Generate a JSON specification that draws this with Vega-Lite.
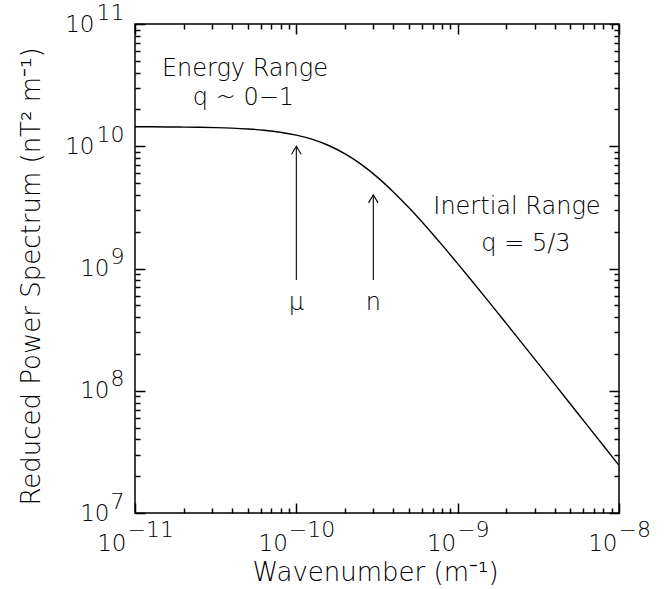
{
  "$schema": "https://vega.github.io/schema/vega-lite/v6.json",
  "autosize": {"type": "none"},
  "width": 484,
  "height": 489,
  "padding": {"left": 135, "top": 24, "right": 47, "bottom": 76},
  "background": "white",
  "config": {
    "view": {"stroke": "black", "strokeWidth": 1.5},
    "font": "DejaVu Sans",
    "axis": {"grid": false, "domain": false, "labelFont": "DejaVu Sans", "titleFont": "DejaVu Sans", "labelColor": "black", "titleColor": "black", "titleFontWeight": 200, "labelFontWeight": 200, "labelFlush": false, "labelOverlap": false, "labelBound": false}
  },
  "resolve": {"axis": {"x": "independent", "y": "independent"}},
  "datasets": {
    "curve": [
      {"k": 1e-11, "p": 1.443e10},
      {"k": 1.259e-11, "p": 1.442e10},
      {"k": 1.585e-11, "p": 1.439e10},
      {"k": 1.995e-11, "p": 1.435e10},
      {"k": 2.512e-11, "p": 1.429e10},
      {"k": 3.162e-11, "p": 1.420e10},
      {"k": 3.981e-11, "p": 1.406e10},
      {"k": 5.012e-11, "p": 1.384e10},
      {"k": 6.310e-11, "p": 1.351e10},
      {"k": 7.943e-11, "p": 1.302e10},
      {"k": 1e-10, "p": 1.232e10},
      {"k": 1.259e-10, "p": 1.137e10},
      {"k": 1.585e-10, "p": 1.014e10},
      {"k": 1.995e-10, "p": 8.70e9},
      {"k": 2.512e-10, "p": 7.14e9},
      {"k": 3.162e-10, "p": 5.62e9},
      {"k": 3.981e-10, "p": 4.25e9},
      {"k": 5.012e-10, "p": 3.12e9},
      {"k": 6.310e-10, "p": 2.235e9},
      {"k": 7.943e-10, "p": 1.574e9},
      {"k": 1e-9, "p": 1.096e9},
      {"k": 1.259e-9, "p": 7.57e8},
      {"k": 1.585e-9, "p": 5.21e8},
      {"k": 1.995e-9, "p": 3.57e8},
      {"k": 2.512e-9, "p": 2.44e8},
      {"k": 3.162e-9, "p": 1.666e8},
      {"k": 3.981e-9, "p": 1.137e8},
      {"k": 5.012e-9, "p": 7.75e7},
      {"k": 6.310e-9, "p": 5.28e7},
      {"k": 7.943e-9, "p": 3.60e7},
      {"k": 1e-8, "p": 2.45e7}
    ],
    "arrows": [
      {"k": 1e-10, "lo": 8.05e8, "hi": 1e10},
      {"k": 3e-10, "lo": 8.05e8, "hi": 4e9}
    ],
    "notes": [
      {"text": "Energy Range", "k": 4.8e-11, "p": 3.75e10},
      {"text": "q ~ 0−1", "k": 4.7e-11, "p": 2.17e10},
      {"text": "Inertial Range", "k": 2.33e-9, "p": 2.80e9},
      {"text": "q = 5/3", "k": 2.65e-9, "p": 1.40e9},
      {"text": "μ", "k": 1e-10, "p": 4.61e8},
      {"text": "n", "k": 3e-10, "p": 4.61e8}
    ]
  },
  "layer": [
    {
      "data": {"name": "curve"},
      "mark": {"type": "line", "color": "black", "strokeWidth": 1.4, "interpolate": "monotone"},
      "encoding": {
        "x": {"field": "k", "type": "quantitative", "scale": {"type": "log", "domain": [1e-11, 1e-8]},
          "axis": {"orient": "bottom", "values": [1e-11, 1e-10, 1e-9, 1e-8], "ticks": false, "labelExpr": "'10'", "labelAlign": "right", "labelBaseline": "top", "labelPadding": 19, "labelFontSize": 23,
            "labelOffset": {"condition": {"test": "datum.value < 5e-10", "value": -9}, "value": -2},
            "title": "Wavenumber (m⁻¹)", "titleFontSize": 26, "titleX": 240, "titleY": 67, "titleBaseline": "alphabetic", "titleAlign": "center"}},
        "y": {"field": "p", "type": "quantitative", "scale": {"type": "log", "domain": [1e7, 1e11]},
          "axis": {"orient": "left", "values": [1e7, 1e8, 1e9, 1e10, 1e11], "ticks": false, "labelExpr": "'10'", "labelAlign": "right", "labelBaseline": "middle", "labelFontSize": 23,
            "labelPadding": {"condition": {"test": "datum.value >= 1e10", "value": 41}, "value": 26},
            "title": "Reduced Power Spectrum (nT² m⁻¹)", "titleFontSize": 26, "titleX": -96, "titleY": 252, "titleAngle": -90, "titleBaseline": "alphabetic", "titleAlign": "center"}}
      }
    },
    {
      "data": {"name": "curve"},
      "mark": {"type": "line", "opacity": 0},
      "encoding": {
        "x": {"field": "k", "type": "quantitative", "scale": {"type": "log", "domain": [1e-11, 1e-8]},
          "axis": {"orient": "bottom", "values": [1e-11, 1e-10, 1e-9, 1e-8], "ticks": false, "labelExpr": "format(round(log(datum.value)/LN10), 'd')", "labelAlign": "left", "labelBaseline": "top", "labelPadding": 6, "labelFontSize": 22,
            "labelOffset": {"condition": {"test": "datum.value < 5e-10", "value": -8}, "value": -1},
            "title": null}},
        "y": {"field": "p", "type": "quantitative", "scale": {"type": "log", "domain": [1e7, 1e11]},
          "axis": {"orient": "left", "values": [1e7, 1e8, 1e9, 1e10, 1e11], "ticks": false, "labelExpr": "format(round(log(datum.value)/LN10), 'd')", "labelAlign": "right", "labelBaseline": "middle", "labelFontSize": 22, "labelPadding": 11, "labelOffset": -12, "title": null}}
      }
    },
    {
      "data": {"name": "curve"},
      "mark": {"type": "line", "opacity": 0},
      "encoding": {
        "x": {"field": "k", "type": "quantitative", "scale": {"type": "log", "domain": [1e-11, 1e-8]},
          "axis": {"orient": "bottom", "values": [1e-11, 1e-10, 1e-9, 1e-8], "labels": false, "ticks": true, "tickSize": -10, "tickWidth": 1.5, "tickColor": "black", "title": null}},
        "y": {"field": "p", "type": "quantitative", "scale": {"type": "log", "domain": [1e7, 1e11]},
          "axis": {"orient": "left", "values": [1e7, 1e8, 1e9, 1e10, 1e11], "labels": false, "ticks": true, "tickSize": -10, "tickWidth": 1.5, "tickColor": "black", "title": null}}
      }
    },
    {
      "data": {"name": "curve"},
      "mark": {"type": "line", "opacity": 0},
      "encoding": {
        "x": {"field": "k", "type": "quantitative", "scale": {"type": "log", "domain": [1e-11, 1e-8]},
          "axis": {"orient": "bottom", "values": [2e-11, 3e-11, 4e-11, 5e-11, 6e-11, 7e-11, 8e-11, 9e-11, 2e-10, 3e-10, 4e-10, 5e-10, 6e-10, 7e-10, 8e-10, 9e-10, 2e-9, 3e-9, 4e-9, 5e-9, 6e-9, 7e-9, 8e-9, 9e-9], "labels": false, "ticks": true, "tickSize": -5, "tickWidth": 1.5, "tickColor": "black", "title": null}},
        "y": {"field": "p", "type": "quantitative", "scale": {"type": "log", "domain": [1e7, 1e11]},
          "axis": {"orient": "left", "values": [2e7, 3e7, 4e7, 5e7, 6e7, 7e7, 8e7, 9e7, 2e8, 3e8, 4e8, 5e8, 6e8, 7e8, 8e8, 9e8, 2e9, 3e9, 4e9, 5e9, 6e9, 7e9, 8e9, 9e9, 2e10, 3e10, 4e10, 5e10, 6e10, 7e10, 8e10, 9e10], "labels": false, "ticks": true, "tickSize": -5, "tickWidth": 1.5, "tickColor": "black", "title": null}}
      }
    },
    {
      "data": {"name": "curve"},
      "mark": {"type": "line", "opacity": 0},
      "encoding": {
        "x": {"field": "k", "type": "quantitative", "scale": {"type": "log", "domain": [1e-11, 1e-8]},
          "axis": {"orient": "top", "values": [1e-11, 1e-10, 1e-9, 1e-8], "labels": false, "ticks": true, "tickSize": -10, "tickWidth": 1.5, "tickColor": "black", "title": null}},
        "y": {"field": "p", "type": "quantitative", "scale": {"type": "log", "domain": [1e7, 1e11]},
          "axis": {"orient": "right", "values": [1e7, 1e8, 1e9, 1e10, 1e11], "labels": false, "ticks": true, "tickSize": -10, "tickWidth": 1.5, "tickColor": "black", "title": null}}
      }
    },
    {
      "data": {"name": "curve"},
      "mark": {"type": "line", "opacity": 0},
      "encoding": {
        "x": {"field": "k", "type": "quantitative", "scale": {"type": "log", "domain": [1e-11, 1e-8]},
          "axis": {"orient": "top", "values": [2e-11, 3e-11, 4e-11, 5e-11, 6e-11, 7e-11, 8e-11, 9e-11, 2e-10, 3e-10, 4e-10, 5e-10, 6e-10, 7e-10, 8e-10, 9e-10, 2e-9, 3e-9, 4e-9, 5e-9, 6e-9, 7e-9, 8e-9, 9e-9], "labels": false, "ticks": true, "tickSize": -5, "tickWidth": 1.5, "tickColor": "black", "title": null}},
        "y": {"field": "p", "type": "quantitative", "scale": {"type": "log", "domain": [1e7, 1e11]},
          "axis": {"orient": "right", "values": [2e7, 3e7, 4e7, 5e7, 6e7, 7e7, 8e7, 9e7, 2e8, 3e8, 4e8, 5e8, 6e8, 7e8, 8e8, 9e8, 2e9, 3e9, 4e9, 5e9, 6e9, 7e9, 8e9, 9e9, 2e10, 3e10, 4e10, 5e10, 6e10, 7e10, 8e10, 9e10], "labels": false, "ticks": true, "tickSize": -5, "tickWidth": 1.5, "tickColor": "black", "title": null}}
      }
    },
    {
      "data": {"name": "arrows"},
      "mark": {"type": "rule", "color": "black", "strokeWidth": 1.1},
      "encoding": {
        "x": {"field": "k", "type": "quantitative", "scale": {"type": "log", "domain": [1e-11, 1e-8]}, "axis": null},
        "y": {"field": "lo", "type": "quantitative", "scale": {"type": "log", "domain": [1e7, 1e11]}, "axis": null},
        "y2": {"field": "hi"}
      }
    },
    {
      "data": {"name": "arrows"},
      "mark": {"type": "point", "shape": "M -0.6 1 L 0 0 L 0.6 1", "size": 256, "filled": false, "stroke": "black", "strokeWidth": 1.1, "opacity": 1},
      "encoding": {
        "x": {"field": "k", "type": "quantitative", "scale": {"type": "log", "domain": [1e-11, 1e-8]}, "axis": null},
        "y": {"field": "hi", "type": "quantitative", "scale": {"type": "log", "domain": [1e7, 1e11]}, "axis": null}
      }
    },
    {
      "data": {"name": "notes"},
      "mark": {"type": "text", "fontSize": 24, "font": "DejaVu Sans", "fontWeight": 200, "align": "center", "baseline": "alphabetic", "color": "black"},
      "encoding": {
        "x": {"field": "k", "type": "quantitative", "scale": {"type": "log", "domain": [1e-11, 1e-8]}, "axis": null},
        "y": {"field": "p", "type": "quantitative", "scale": {"type": "log", "domain": [1e7, 1e11]}, "axis": null},
        "text": {"field": "text"}
      }
    }
  ]
}
